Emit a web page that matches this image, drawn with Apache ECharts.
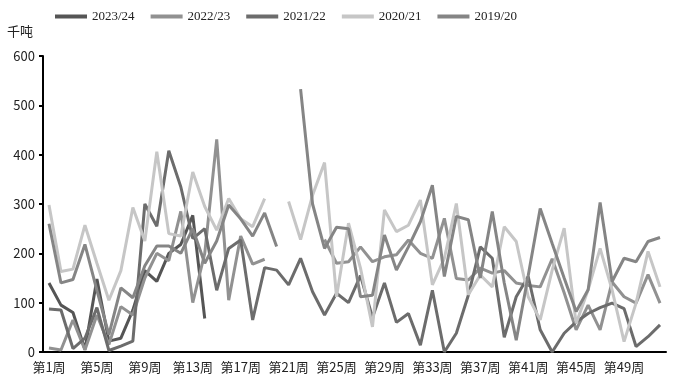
<!DOCTYPE html>
<html><head><meta charset="utf-8">
<script src="https://cdn.jsdelivr.net/npm/echarts@6/dist/echarts.min.js"></script>
<style>html,body{margin:0;padding:0;background:#fff}#c{width:677px;height:384px}</style>
</head><body><div id="c"></div>
<script>
const weeks = [];
for (let i = 1; i <= 52; i++) weeks.push('第' + i + '周');
const seriesNames = ['2023/24', '2022/23', '2021/22', '2020/21', '2019/20'];
const s2324 = [140, 95, 80, 5, 148, 22, 28, 85, 165, 143, 200, 218, 277, 68];
const s2223 = [8, 4, 65, 4, 75, 15, 92, 75, 150, 200, 185, 285, 100, 200, 431, 105, 235, 178, 188, null, null, null, null, 228, 180, 183, 213, 183, 193, 197, 227, 200, 190, 271, 149, 146, 170, 160, 165, 140, 135, 132, 189, 120, 45, 95, 45, 142, 112, 99, 157, 99];
const s2122 = [87, 85, 7, 28, 90, 3, 12, 22, 300, 255, 408, 335, 230, 250, 125, 210, 227, 65, 171, 166, 136, 190, 122, 75, 119, 100, 155, 70, 140, 60, 78, 14, 125, 0, 38, 115, 213, 190, 30, 112, 153, 45, 0, 38, 61, 78, 90, 99, 88, 11, 31, 55];
const s2021 = [298, 163, 168, 257, 180, 105, 165, 293, 225, 406, 240, 235, 365, 295, 247, 311, 270, 254, 311, null, 305, 228, 318, 384, 112, 261, 170, 51, 288, 244, 257, 308, 136, 190, 301, 116, 156, 132, 254, 224, 112, 65, 166, 251, 58, 126, 210, 126, 21, 99, 204, 132];
const s1920 = [260, 140, 147, 218, 125, 35, 130, 110, 175, 215, 215, 200, 250, 180, 225, 298, 270, 235, 282, 214, null, 533, 300, 210, 253, 250, 112, 115, 237, 166, 213, 264, 338, 153, 275, 268, 150, 285, 140, 24, 155, 291, 220, 150, 82, 126, 303, 143, 190, 183, 224, 232];
const yTicks = [0, 100, 200, 300, 400, 500, 600];

const colors = ['#555555', '#919191', '#6c6c6c', '#c6c6c6', '#858585'];
const dataList = [s2324, s2223, s2122, s2021, s1920];
const chart = echarts.init(document.getElementById('c'));
chart.setOption({
  animation: false,
  color: colors,
  legend: {
    left: 50, top: 5, itemWidth: 32, itemHeight: 4, itemGap: 16, icon: 'rect',
    textStyle: {fontFamily: 'Liberation Sans Narrow', fontSize: 13, color: '#222'},
    data: seriesNames
  },
  grid: {left: 43, right: 11, top: 56, bottom: 32, containLabel: false},
  xAxis: {
    type: 'category', data: weeks, boundaryGap: true,
    axisLine: {lineStyle: {color: '#000', width: 2}},
    axisTick: {interval: 3, length: 4, lineStyle: {color: '#000', width: 2}},
    axisLabel: {interval: 3, fontFamily: 'Noto Sans CJK SC', fontSize: 13, color: '#222', margin: 9}
  },
  yAxis: {
    type: 'value', min: 0, max: 600, interval: 100,
    name: '千吨', nameGap: 18,
    nameTextStyle: {fontFamily: 'Noto Sans CJK SC', fontSize: 13, color: '#222', align: 'right', padding: [0, 10, 0, 0]},
    axisLine: {show: true, lineStyle: {color: '#000', width: 2}},
    axisTick: {show: true, length: 4, lineStyle: {color: '#000', width: 2}},
    splitLine: {show: false},
    axisLabel: {fontFamily: 'Noto Sans CJK SC', fontSize: 13, color: '#222', margin: 8,
      formatter: v => yTicks.includes(v) ? String(v) : ''}
  },
  series: seriesNames.map((n, i) => ({
    name: n, type: 'line', data: dataList[i], showSymbol: false, symbol: 'none',
    connectNulls: false, lineStyle: {width: 3, color: colors[i]}, itemStyle: {color: colors[i]}
  }))
});
</script></body></html>
